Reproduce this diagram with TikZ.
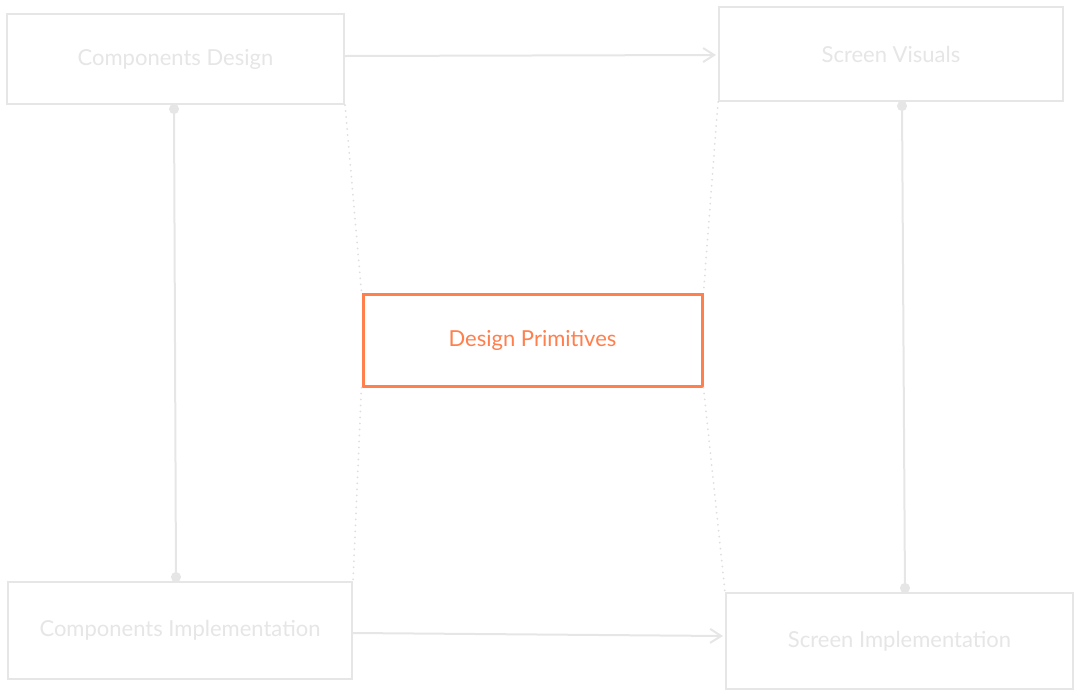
\documentclass[tikz,border=0pt]{standalone}
\usepackage{fontspec}
\setmainfont{Lato}
\usetikzlibrary{arrows.meta}
\definecolor{faint}{RGB}{230,230,230}
\definecolor{dotgray}{RGB}{222,222,222}
\definecolor{coral}{RGB}{255,127,77}
\tikzset{
  box/.style={draw=faint, line width=2pt, fill=white, text=faint,
    inner sep=0pt, font=\fontsize{22}{24}\selectfont},
  focus/.style={draw=coral, line width=3pt, fill=white, text=coral,
    inner sep=0pt, font=\fontsize{22}{24}\selectfont},
  flow/.style={draw=faint, line width=2pt,
    -{Straight Barb[length=11pt,width=14pt,line width=2pt]}},
  link/.style={draw=faint, line width=2pt,
    {Circle[length=10pt,width=10pt]}-{Circle[length=10pt,width=10pt]}},
  hint/.style={draw=dotgray, line width=2pt, line cap=round,
    dash pattern=on 0pt off 6pt}
}
\begin{document}
\begin{tikzpicture}[x=1pt,y=-1pt]
  \useasboundingbox (0,0) rectangle (1080,697);
  \node[box, minimum width=337pt, minimum height=90pt] (cd) at (175.5,59) {Components Design};
  \node[box, minimum width=344pt, minimum height=94pt] (sv) at (891,54) {Screen Visuals};
  \node[box, minimum width=344pt, minimum height=97pt] (ci) at (180,630.5) {Components Implementation};
  \node[box, minimum width=347pt, minimum height=96pt] (si) at (899.5,641) {Screen Implementation};
  \node[focus, minimum width=339pt, minimum height=92pt] (dp) at (532.5,340) {Design Primitives};

  % dotted guides from the primitives box to the four corner boxes
  \draw[hint] (cd.south east) -- (dp.north west);
  \draw[hint] (sv.south west) -- (dp.north east);
  \draw[hint] (dp.south west) -- (ci.north east);
  \draw[hint] (dp.south east) -- (si.north west);

  % design feeds screens, implementation feeds implementation
  \draw[flow] ([yshift=3pt]cd.east) -- ([xshift=-2pt,yshift=4pt]sv.west |- cd.east);
  \draw[flow] ([yshift=-2.5pt]ci.east) -- ([xshift=-2pt,yshift=-5.5pt]si.west |- ci.east);

  % design tied to its implementation
  \draw[link] ([xshift=-1.5pt,yshift=1pt]cd.south) -- ([xshift=-4pt,yshift=-1pt]ci.north);
  \draw[link] ([xshift=11pt,yshift=1pt]sv.south) -- ([xshift=5.5pt,yshift=-1pt]si.north);
\end{tikzpicture}
\end{document}
